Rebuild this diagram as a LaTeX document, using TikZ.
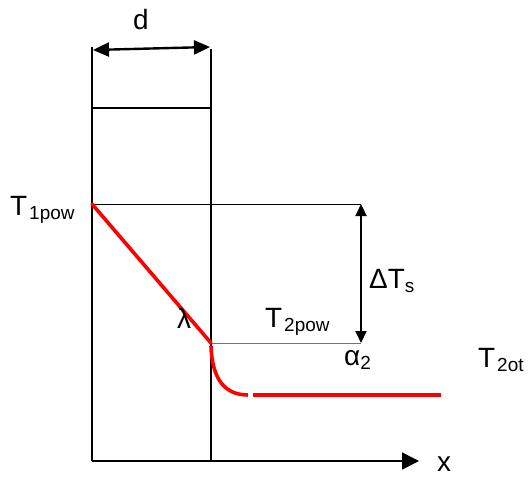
\documentclass[tikz,border=0pt]{standalone}
\usepackage{fontspec}
\setmainfont{Liberation Sans}
\usetikzlibrary{arrows.meta}
\newcommand{\sbs}[1]{\raisebox{-4bp}{\fontsize{19}{20}\selectfont #1}}
\tikzset{
  lbl/.style={font=\fontsize{28}{30}\selectfont, inner sep=0pt, anchor=base west},
  wall/.style={line width=1.6bp, black},
  thin/.style={line width=1bp, black},
  redl/.style={line width=3.6bp, red},
  bigtip/.style={-{Triangle[length=17bp,width=17bp]}},
  dtip/.style={{Triangle[length=16bp,width=14bp]}-{Triangle[length=16bp,width=14bp]}},
  stip/.style={{Triangle[length=12bp,width=11bp]}-{Triangle[length=12bp,width=11bp]}},
}
\begin{document}
\begin{tikzpicture}[x=1bp,y=-1bp]
\useasboundingbox (0,0) rectangle (529,478);
% key points
\coordinate (LT) at (92,47);
\coordinate (RT) at (211,49);
\coordinate (LB) at (92,461);
\coordinate (RB) at (211,461);
\coordinate (LM) at (92,108);
\coordinate (RM) at (212,108);
\coordinate (P1) at (92,204);
\coordinate (P2) at (211,343);
\coordinate (A1) at (361,204);
\coordinate (A2) at (361,343);
\coordinate (XE) at (419,461);
\coordinate (DL) at (93,50);
\coordinate (DR) at (210,47);
\coordinate (C0) at (211,346);
\coordinate (C1) at (248,395);
\coordinate (H0) at (253,395);
\coordinate (H1) at (441,395);
% walls
\draw[wall] (LT) -- (LB);
\draw[wall] (RT) -- (RB);
\draw[wall] (LM) -- (RM);
% axis
\draw[wall, bigtip] (LB) -- (XE);
% d arrow
\draw[line width=2.4bp, dtip] (DL) -- (DR);
% reference lines
\draw[thin] (P1) -- (A1);
\draw[line width=1bp, black!55] (P2) -- (A2);
\draw[line width=2bp, stip] (A1) -- (A2);
% temperature profile
\draw[redl, line cap=round] (P1) -- (P2);
\draw[redl] (C0) .. controls (212,378) and (224,395) .. (C1);
\draw[redl] (H0) -- (H1);
% labels
\node[lbl] (d) at (133,30) {d};
\node[lbl] (t1) at (10,215) {T\kern2bp\sbs{1pow}};
\node[lbl] (t2) at (265,327) {T\kern2bp\sbs{2pow}};
\node[lbl] (ds) at (369,288) {ΔT\sbs{s}};
\node[lbl] (a2) at (344,365) {α\sbs{2}};
\node[lbl] (lam) at (177,328) {λ};
\node[lbl] (t2o) at (478,367) {T\kern2bp\sbs{2ot}};
\node[lbl] (xl) at (437,471) {x};
\end{tikzpicture}
\end{document}
